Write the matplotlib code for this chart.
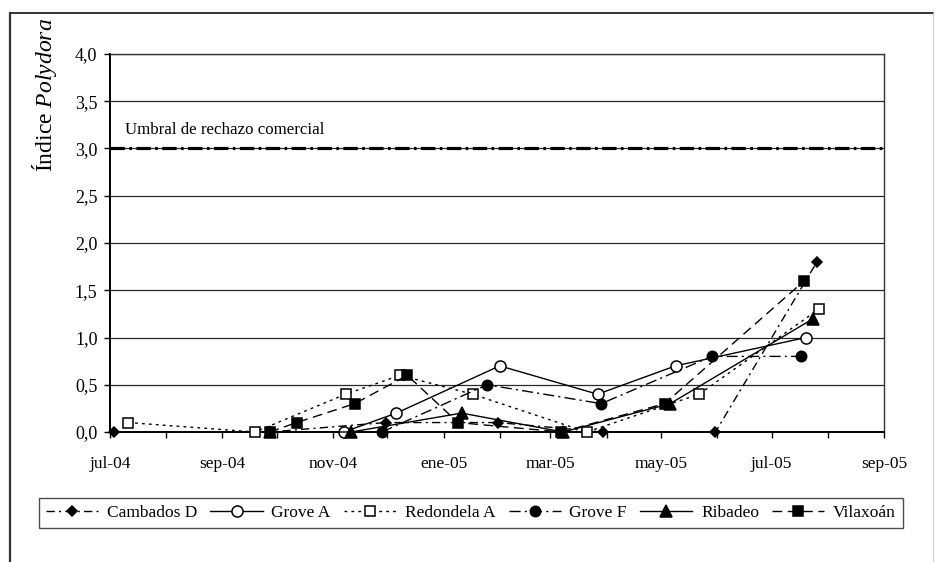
import matplotlib
matplotlib.use("Agg")
import matplotlib.pyplot as plt
import matplotlib.dates as mdates
from matplotlib.lines import Line2D
from matplotlib.transforms import blended_transform_factory
import numpy as np
import datetime as dt

# ---------------- data ----------------
cambados_dates = ['2004-07-03', '2004-09-27', '2004-11-30', '2005-01-31', '2005-03-30', '2005-05-31', '2005-07-26']
cambados_vals = [0.0, 0.0, 0.1, 0.1, 0.0, 0.0, 1.8]

grove_a_dates = ['2004-11-07', '2004-12-06', '2005-02-01', '2005-03-27', '2005-05-09', '2005-07-20']
grove_a_vals = [0.0, 0.2, 0.7, 0.4, 0.7, 1.0]

redondela_dates = ['2004-07-11', '2004-09-19', '2004-11-08', '2004-12-08', '2005-01-17', '2005-03-21', '2005-05-22', '2005-07-27']
redondela_vals = [0.1, 0.0, 0.4, 0.6, 0.4, 0.0, 0.4, 1.3]

grove_f_dates = ['2004-11-28', '2005-01-25', '2005-03-29', '2005-05-29', '2005-07-17']
grove_f_vals = [0.0, 0.5, 0.3, 0.8, 0.8]

ribadeo_dates = ['2004-09-27', '2004-11-11', '2005-01-11', '2005-03-08', '2005-05-06', '2005-07-24']
ribadeo_vals = [0.0, 0.0, 0.2, 0.0, 0.3, 1.2]

vilaxoan_dates = ['2004-09-27', '2004-10-12', '2004-11-13', '2004-12-12', '2005-01-09', '2005-03-07', '2005-05-03', '2005-07-19']
vilaxoan_vals = [0.0, 0.1, 0.3, 0.6, 0.1, 0.0, 0.3, 1.6]

series_names = ['Cambados D', 'Grove A', 'Redondela A', 'Grove F', 'Ribadeo', 'Vilaxoán']

threshold_value = 3.0
threshold_label = 'Umbral de rechazo comercial'

xtick_dates = ['2004-07-01', '2004-09-01', '2004-11-01', '2005-01-01', '2005-03-01', '2005-05-01', '2005-07-01', '2005-09-01']
xtick_labels = ['jul-04', 'sep-04', 'nov-04', 'ene-05', 'mar-05', 'may-05', 'jul-05', 'sep-05']
ytick_values = [0.0, 0.5, 1.0, 1.5, 2.0, 2.5, 3.0, 3.5, 4.0]
ytick_labels = ['0,0', '0,5', '1,0', '1,5', '2,0', '2,5', '3,0', '3,5', '4,0']


def to_dates(lst):
    return [dt.datetime.strptime(s, '%Y-%m-%d') for s in lst]


plt.rcParams['font.family'] = ['Liberation Serif', 'DejaVu Serif']
plt.rcParams['mathtext.fontset'] = 'custom'
plt.rcParams['mathtext.rm'] = 'Liberation Serif'
plt.rcParams['mathtext.it'] = 'Liberation Serif:italic'

W, H = 937, 562
fig = plt.figure(figsize=(W / 100, H / 100), dpi=100)
fig.patch.set_facecolor('white')

# axes box in pixel coords: x 110..884, y 54..432
ax = fig.add_axes([110 / W, (H - 432) / H, (884 - 110) / W, (432 - 54) / H])

# outer frame (partial, as in reference crop)
fig.add_artist(Line2D([10 / W, 933 / W], [1 - 13 / H, 1 - 13 / H], color='#111111', lw=1.2))
fig.add_artist(Line2D([10 / W, 10 / W], [1 - 13 / H, 0], color='#333333', lw=1.6))
fig.add_artist(Line2D([933 / W, 933 / W], [1 - 13 / H, 0], color='#cccccc', lw=0.8))

# gridlines
for v in ytick_values:
    ax.axhline(v, color='#2a2a2a', lw=0.9, zorder=1)

# threshold line
ax.axhline(threshold_value, color='black', lw=2.3, linestyle=(0, (4.5, 1.4, 0.8, 1.4)), zorder=2)
trans = blended_transform_factory(ax.transAxes, ax.transData)
ax.text(15 / 774, threshold_value + 0.2, threshold_label, transform=trans,
        fontsize=12.2, va='center', ha='left')

lw = 1.0
styles = [
    dict(dates=cambados_dates, vals=cambados_vals, ls=(0, (6, 3, 1.5, 3)), marker='D', ms=5.5, mfc='black', mec='black'),
    dict(dates=grove_a_dates, vals=grove_a_vals, ls='-', marker='o', ms=8.0, mfc='white', mec='black'),
    dict(dates=redondela_dates, vals=redondela_vals, ls=(0, (2, 3)), marker='s', ms=7.5, mfc='white', mec='black'),
    dict(dates=grove_f_dates, vals=grove_f_vals, ls=(0, (8, 3, 1.5, 3)), marker='o', ms=7.5, mfc='black', mec='black'),
    dict(dates=ribadeo_dates, vals=ribadeo_vals, ls='-', marker='^', ms=8.0, mfc='black', mec='black'),
    dict(dates=vilaxoan_dates, vals=vilaxoan_vals, ls=(0, (7, 4)), marker='s', ms=7.5, mfc='black', mec='black'),
]

handles = []
for name, st in zip(series_names, styles):
    h, = ax.plot(to_dates(st['dates']), st['vals'], color='black', lw=lw, linestyle=st['ls'],
                 marker=st['marker'], markersize=st['ms'], markerfacecolor=st['mfc'],
                 markeredgecolor=st['mec'], markeredgewidth=1.1, clip_on=False, zorder=4,
                 label=name)
    handles.append(h)

# axes limits and ticks
ax.set_xlim(dt.datetime(2004, 7, 1), dt.datetime(2005, 9, 1))
ax.set_ylim(0, 4.0)
ax.set_yticks(ytick_values)
ax.set_yticklabels(ytick_labels, fontsize=13)
ax.set_xticks(to_dates(xtick_dates))
ax.set_xticklabels(xtick_labels, fontsize=12.5)
ax.xaxis.set_minor_locator(mdates.MonthLocator())
ax.tick_params(axis='x', which='both', direction='out', length=4, width=1, pad=13, color='black')
ax.tick_params(axis='y', which='major', direction='out', length=4, width=1, pad=5, color='black')

for sp in ['left', 'bottom']:
    ax.spines[sp].set_color('black')
    ax.spines[sp].set_linewidth(1.4)
for sp in ['top', 'right']:
    ax.spines[sp].set_color('#333333')
    ax.spines[sp].set_linewidth(1.0)

# y label (positioned as in reference)
fig.text(45 / W, 1 - 95 / H, 'Índice $\\mathit{Polydora}$', rotation=90, fontsize=17,
         ha='center', va='center')

# legend
leg = fig.legend(handles=handles, labels=series_names, ncol=6,
                 bbox_to_anchor=(39 / W, (H - 539) / H, (903 - 39) / W, 52 / H),
                 loc='center', mode='expand', fontsize=12.5, frameon=True, fancybox=False,
                 edgecolor='#222222', handlelength=3.0, handletextpad=0.5,
                 borderaxespad=0, columnspacing=1.0)
leg.get_frame().set_linewidth(1.0)

fig.savefig('out.png', dpi=100)
